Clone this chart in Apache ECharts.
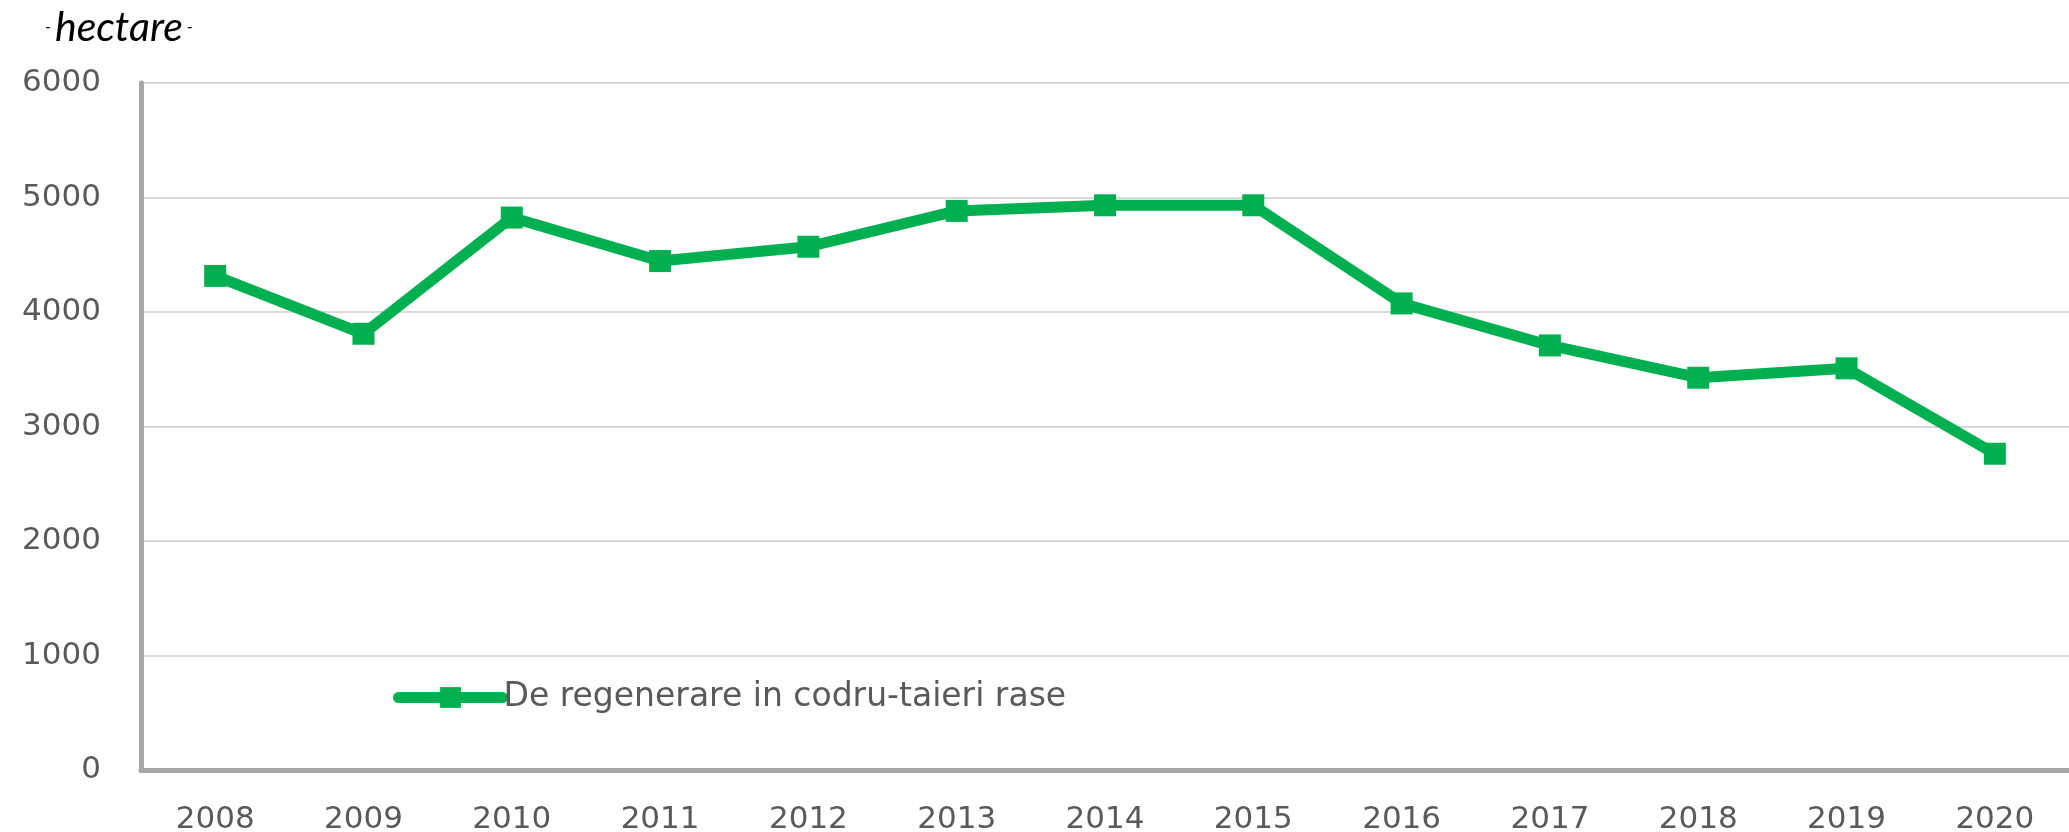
<!DOCTYPE html>
<html>
<head>
<meta charset="utf-8">
<script src="https://cdn.jsdelivr.net/npm/echarts@6/dist/echarts.min.js"></script>
<style>
html,body{margin:0;padding:0;background:#fff;}
#chart{width:2069px;height:832px;}
</style>
</head>
<body>
<div id="chart"></div>
<script>
// ani
var years = ['2008','2009','2010','2011','2012','2013','2014','2015','2016','2017','2018','2019','2020'];
// suprafata (hectare)
var values = [4315, 3810, 4825, 4445, 4570, 4883, 4932, 4932, 4075, 3708, 3426, 3508, 2762];
var seriesName = 'De regenerare in codru-taieri rase';
var yTicks = [0, 6000, 1000]; // min, max, interval

var green = '#00B050';
var chart = echarts.init(document.getElementById('chart'));

var option = {
    animation: false,
    title: {
        text: '{d|- }{h|hectare}{d| -}',
        left: 40,
        top: 2,
        textStyle: {
            rich: {
                d: {fontSize: 17, color: '#000', fontFamily: 'Lato', fontStyle: 'italic', fontWeight: 'normal'},
                h: {fontSize: 41, color: '#000', fontFamily: 'Lato', fontStyle: 'italic', fontWeight: 'normal'}
            }
        }
    },
    legend: {
        left: 388,
        top: 676,
        itemWidth: 104,
        itemHeight: 26,
        itemGap: 8,
        lineStyle: {width: 11, cap: 'round'},
        textStyle: {fontFamily: 'DejaVu Sans', fontSize: 33, color: '#595959', padding: [0, 0, 0, -4]},
        data: [seriesName]
    },
    grid: {left: 141, right: 0, top: 83, bottom: 62, outerBoundsMode: 'none'},
    xAxis: {
        type: 'category',
        data: years,
        boundaryGap: true,
        axisLine: {lineStyle: {color: '#a6a6a6', width: 5}},
        axisTick: {show: false},
        axisLabel: {fontFamily: 'DejaVu Sans', fontSize: 31, color: '#595959', margin: 34}
    },
    yAxis: {
        type: 'value',
        min: yTicks[0],
        max: yTicks[1],
        interval: yTicks[2],
        axisLine: {show: true, lineStyle: {color: '#a6a6a6', width: 5}},
        axisTick: {show: false},
        splitLine: {lineStyle: {color: '#d9d9d9', width: 2}},
        axisLabel: {
            fontFamily: 'DejaVu Sans', fontSize: 31, color: '#595959', margin: 40,
            formatter: function (v) { return String(v); }
        }
    },
    series: [{
        name: seriesName,
        type: 'line',
        data: values,
        symbol: 'rect',
        symbolSize: 22,
        itemStyle: {color: green},
        lineStyle: {color: green, width: 11}
    }]
};
chart.setOption(option);
</script>
</body>
</html>
